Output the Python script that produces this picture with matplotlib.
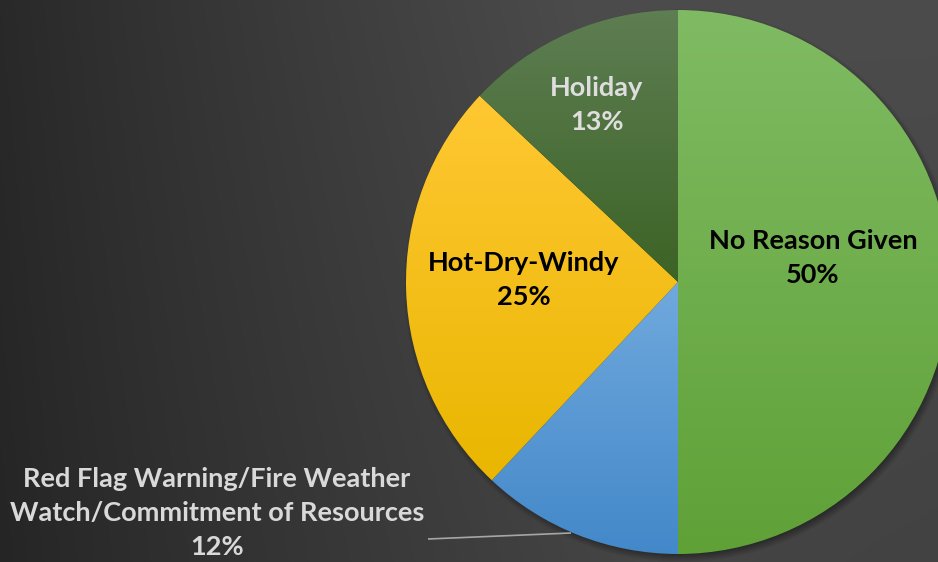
import numpy as np
import matplotlib
matplotlib.use("Agg")
import matplotlib.pyplot as plt
from matplotlib.colors import to_rgb

# ---- data ----
categories = ["No Reason Given",
              "Red Flag Warning/Fire Weather\nWatch/Commitment of Resources",
              "Hot-Dry-Windy",
              "Holiday"]
values = [50, 12, 25, 13]
pct_labels = ["50%", "12%", "25%", "13%"]

# gradient colours per slice (top, bottom)
grad_top = ["#80bb63", "#70a9dd", "#ffc833", "#5e7e53"]
grad_bot = ["#5fa137", "#4388c9", "#e9b600", "#3c6325"]
label_colors = ["#000000", "#d9d9d9", "#000000", "#dedede"]

W, H = 938, 562
FONT = ["Lato", "DejaVu Sans"]

fig = plt.figure(figsize=(W / 100, H / 100), dpi=100)
ax = fig.add_axes([0, 0, 1, 1])

# ---- background gradient ----
yy, xx = np.mgrid[0:H, 0:W].astype(float)
t = np.clip(xx / 640.0 + 0.08 * (1 - yy / H), 0, 1) ** 0.9
v = 0x25 + (0x4c - 0x25) * t - 10 * (yy / H) * (xx / W)
bg = np.dstack([v, v, v]) / 255.0
ax.imshow(bg, extent=(0, W, 0, H), origin="upper", zorder=0, interpolation="bilinear")

cx, cy, R = 678, H - 282, 272

# ---- soft shadow ----
d = np.sqrt((xx - (cx + 2)) ** 2 + ((H - yy) - (cy - 3)) ** 2)
a = 0.4 * np.clip(1 - (d - (R - 4)) / 9.0, 0, 1)
sh = np.zeros((H, W, 4))
sh[..., 3] = a
ax.imshow(sh, extent=(0, W, 0, H), origin="upper", zorder=1, interpolation="bilinear")

# ---- pie ----
wedges, _ = ax.pie(values, startangle=90, counterclock=False,
                   center=(cx, cy), radius=R,
                   wedgeprops=dict(linewidth=0, edgecolor="none"))
for w, ct, cb in zip(wedges, grad_top, grad_bot):
    w.set_facecolor("none")
    w.set_zorder(2)
    ext = w.get_path().get_extents()
    y0, y1 = max(ext.y0, cy - R), min(ext.y1, cy + R)
    n = 256
    c0, c1 = np.array(to_rgb(ct)), np.array(to_rgb(cb))
    s = np.linspace(0, 1, n)[:, None]
    img = (c0 * (1 - s) + c1 * s)[:, None, :]
    im = ax.imshow(img, extent=(cx - R - 2, cx + R + 2, y0 - 1, y1 + 1),
                   origin="upper", aspect="auto", zorder=2, interpolation="bilinear")
    im.set_clip_path(w)

# ---- labels ----
fs = 19.5
ls = 1.5
kw = dict(ha="center", va="center", fontsize=fs, fontweight="bold",
          family=FONT, linespacing=ls, zorder=5)
ax.text(813, H - 258, categories[0] + "\n" + pct_labels[0], color=label_colors[0], **kw)
ax.text(524, H - 280, categories[2] + "\n" + pct_labels[2], color=label_colors[2], **kw)
ax.text(597, H - 105, categories[3] + "\n" + pct_labels[3], color=label_colors[3], **kw)
ax.text(217, H - 513, categories[1] + "\n" + pct_labels[1], color=label_colors[1], **kw)

# leader line
ax.plot([428, 571], [H - 539, H - 533], color="#a6a6a6", lw=1.2, zorder=4,
        solid_capstyle="butt")

ax.set_xlim(0, W)
ax.set_ylim(0, H)
ax.set_aspect("auto")
ax.axis("off")

fig.savefig("out.png", dpi=100, facecolor="#2b2b2b")
